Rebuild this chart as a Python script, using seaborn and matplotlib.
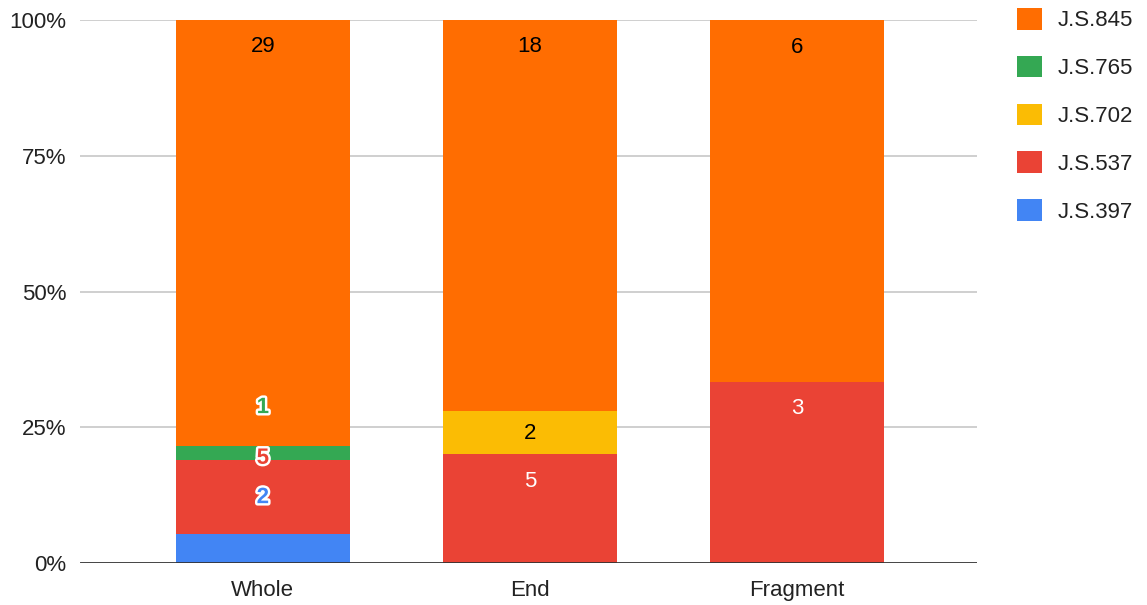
import matplotlib
matplotlib.use("Agg")
import matplotlib.pyplot as plt
import matplotlib.patheffects as pe
from matplotlib.patches import Patch
import seaborn as sns
import pandas as pd
import numpy as np

categories = ["Whole", "End", "Fragment"]
series = ["J.S.397", "J.S.537", "J.S.702", "J.S.765", "J.S.845"]
js397 = [2, 0, 0]
js537 = [5, 5, 3]
js702 = [0, 2, 0]
js765 = [1, 0, 0]
js845 = [29, 18, 6]
yticks = [0, 25, 50, 75, 100]
ytick_labels = ["0%", "25%", "50%", "75%", "100%"]

colors = {"J.S.397": "#4285F4", "J.S.537": "#EA4335", "J.S.702": "#FBBC04",
          "J.S.765": "#34A853", "J.S.845": "#FF6D01"}

values = np.array([js397, js537, js702, js765, js845], dtype=float)
totals = values.sum(axis=0)
pct = values / totals * 100
cum = np.cumsum(pct, axis=0)

sns.set_theme(style="white")
plt.rcParams["font.family"] = ["Liberation Sans", "DejaVu Sans"]

FS = 16

fig = plt.figure(figsize=(11.47, 6.05), dpi=100)
ax = fig.add_axes([80 / 1147, 1 - 563 / 605, (977 - 80) / 1147, (563 - 20) / 605])

for yt in yticks[1:]:
    ax.axhline(yt, color="#cccccc", lw=1.3, zorder=0)

# overlapping cumulative bars, top series first
for i in range(len(series) - 1, -1, -1):
    df = pd.DataFrame({"category": categories, "cum": cum[i]})
    sns.barplot(data=df, x="category", y="cum", color=colors[series[i]],
                saturation=1, width=0.65, ax=ax, zorder=2, linewidth=0)

ax.axhline(0, color="#333333", lw=2.0, zorder=3)

# label style: (text colour, outline colour or None, offset px from segment top)
label_style = {
    (0, 0): (colors["J.S.397"], "white", 36),
    (1, 0): (colors["J.S.537"], "white", 2),
    (3, 0): (colors["J.S.765"], "white", 38),
    (4, 0): ("#000000", None, -27),
    (1, 1): ("#ffffff", None, -27),
    (2, 1): ("#000000", None, -23),
    (4, 1): ("#000000", None, -27),
    (1, 2): ("#ffffff", None, -27),
    (4, 2): ("#000000", None, -27),
}
for (si, ci), (tc, oc, off) in label_style.items():
    v = values[si, ci]
    if v <= 0:
        continue
    t = ax.annotate(f"{int(v)}", xy=(ci, cum[si, ci]), xytext=(0, off * 0.72),
                    textcoords="offset points", ha="center", va="center",
                    fontsize=FS, color=tc, zorder=5,
                    fontweight="bold" if oc else "normal")
    if oc:
        t.set_path_effects([pe.withStroke(linewidth=3.5, foreground=oc)])

ax.set_xlim(-0.685, 2.675)
ax.set_ylim(0, 100)
ax.set_yticks(yticks)
ax.set_yticklabels(ytick_labels)
ax.set_xlabel("")
ax.set_ylabel("")
ax.tick_params(axis="y", length=0, pad=10, labelsize=FS, colors="#222222")
ax.tick_params(axis="x", length=0, pad=12, labelsize=FS, colors="#222222")
for s in ax.spines.values():
    s.set_visible(False)

handles = [Patch(facecolor=colors[s], edgecolor="none", label=s) for s in reversed(series)]
leg = fig.legend(handles=handles, loc="upper left", bbox_to_anchor=(1017 / 1147, 1 - 8 / 605),
                 frameon=False, fontsize=FS, handlelength=1.12, handleheight=1.12,
                 labelspacing=1.1, handletextpad=0.72, borderaxespad=0, borderpad=0)
for txt in leg.get_texts():
    txt.set_color("#222222")

fig.savefig("out.png", dpi=100)
